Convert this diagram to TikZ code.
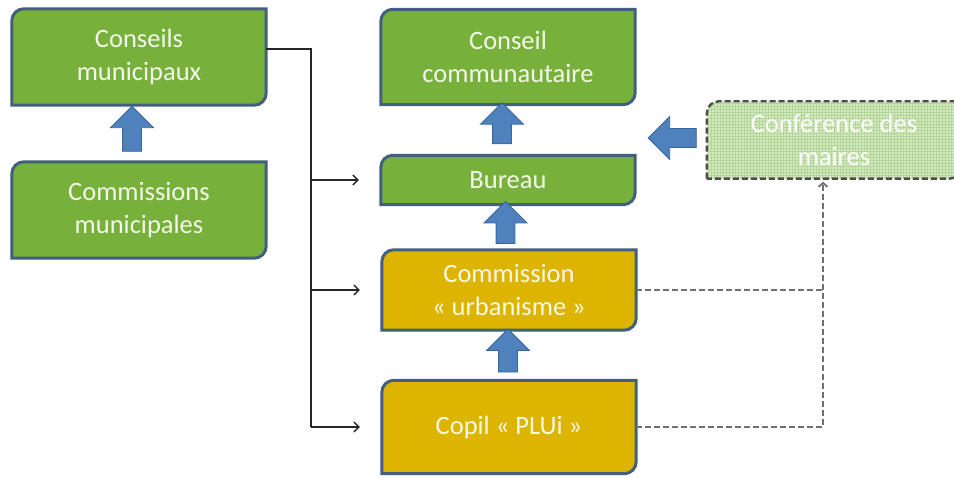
\documentclass[tikz,border=0pt]{standalone}
\usepackage{fontspec}
\setmainfont{Carlito}
\usetikzlibrary{arrows.meta,shapes.arrows,patterns,backgrounds,calc}

\definecolor{boxgreen}{HTML}{77B13C}
\definecolor{boxyellow}{HTML}{DDB400}
\definecolor{boxedge}{HTML}{42607D}
\definecolor{arrowblue}{HTML}{4F81BD}
\definecolor{arrowedge}{HTML}{35669E}
\definecolor{confgreen}{HTML}{D6EAC0}
\definecolor{confgrid}{HTML}{B3D69A}
\definecolor{dashgrey}{HTML}{707070}
\definecolor{paletext}{HTML}{F4F8E8}

% box with rounded top left and bottom right corners
\newcommand{\diagshape}[2]{%
  \path[#2] (#1.south west) -- ([yshift=-12pt]#1.north west)
    arc[start angle=180, end angle=90, radius=12pt] -- (#1.north east)
    -- ([yshift=12pt]#1.south east)
    arc[start angle=0, end angle=-90, radius=12pt] -- cycle;}

\tikzset{
  boxtext/.style={align=center, inner sep=0pt, minimum width=254pt,
    font=\fontsize{26.5}{33}\selectfont, text=paletext},
  boxline/.style={draw=boxedge, line width=3pt},
  blockarrow/.style={single arrow, draw=arrowedge, fill=arrowblue,
    line width=0.8pt, inner sep=9pt, single arrow head extend=12pt},
  link/.style={black!85, line width=1.3pt},
  linkarrow/.style={link, -{Straight Barb[length=5pt, width=10pt]}},
  dashlink/.style={dashgrey, line width=1.8pt, dash pattern=on 6pt off 3pt},
}

\begin{document}
\begin{tikzpicture}[x=1pt, y=-1pt]
  \useasboundingbox (0,0) rectangle (954,478);

  % left column
  \node[boxtext, minimum height=96pt] (conseilsmun) at (139,57) {Conseils\\municipaux};
  \node[boxtext, minimum height=96pt] (commissionsmun) at (139,210) {Commissions\\municipales};

  % middle column
  \node[boxtext, minimum height=95pt] (conseilcom) at (508,57) {Conseil\\communautaire};
  \node[boxtext, minimum height=49pt] (bureau) at (508,180) {Bureau};
  \node[boxtext, minimum height=80pt] (comurba) at (509,290) {Commission\\« urbanisme »};
  \node[boxtext, minimum height=93pt] (copil) at (509,427) {Copil « PLUi »};

  % right box, cut by the page edge
  \node[boxtext, text=white, minimum height=77pt] (conference) at (834,140) {Conférence des\\maires};

  \begin{scope}[on background layer]
    \foreach \n in {conseilsmun, commissionsmun, conseilcom, bureau}
      \diagshape{\n}{boxline, fill=boxgreen};
    \foreach \n in {comurba, copil}
      \diagshape{\n}{boxline, fill=boxyellow};
    \diagshape{conference}{fill=confgreen};
    \diagshape{conference}{pattern=grid, pattern color=confgrid};
    \diagshape{conference}{draw=black!70, line width=2.4pt, dash pattern=on 6pt off 3pt};
  \end{scope}

  % blue block arrows
  \node[blockarrow, rotate=90, minimum height=45pt] (upmun)
    at ($(commissionsmun.north)!0.5!(conseilsmun.south)+(-7,0)$) {};
  \node[blockarrow, rotate=90, minimum height=41pt] (upbureau)
    at ($(bureau.north)!0.5!(conseilcom.south)+(-6,-2)$) {};
  \node[blockarrow, rotate=90, minimum height=42pt] (upurba)
    at ($(comurba.north)!0.5!(bureau.south)+(-3,0)$) {};
  \node[blockarrow, rotate=90, minimum height=43pt] (upcopil)
    at ($(copil.north)!0.5!(comurba.south)+(-1,0)$) {};
  \node[blockarrow, rotate=180, minimum height=48pt] (leftconf) at (677,138) {};

  % links from the municipal councils
  \coordinate (trunk) at (311,49);
  \draw[link] (conseilsmun.east |- trunk) -- (trunk) -- (trunk |- copil.west);
  \foreach \n in {bureau, comurba, copil}
    \draw[linkarrow] (trunk |- \n.west) -- ([xshift=-22pt]\n.west);

  % dashed links to the conference
  \coordinate (dashcol) at (823,0);
  \draw[dashlink] (comurba.east) -- (comurba.east -| dashcol);
  \draw[dashlink, -{Straight Barb[length=4pt, width=9pt]}]
    (copil.east) -| ([yshift=-3pt]conference.south -| dashcol);
\end{tikzpicture}
\end{document}
